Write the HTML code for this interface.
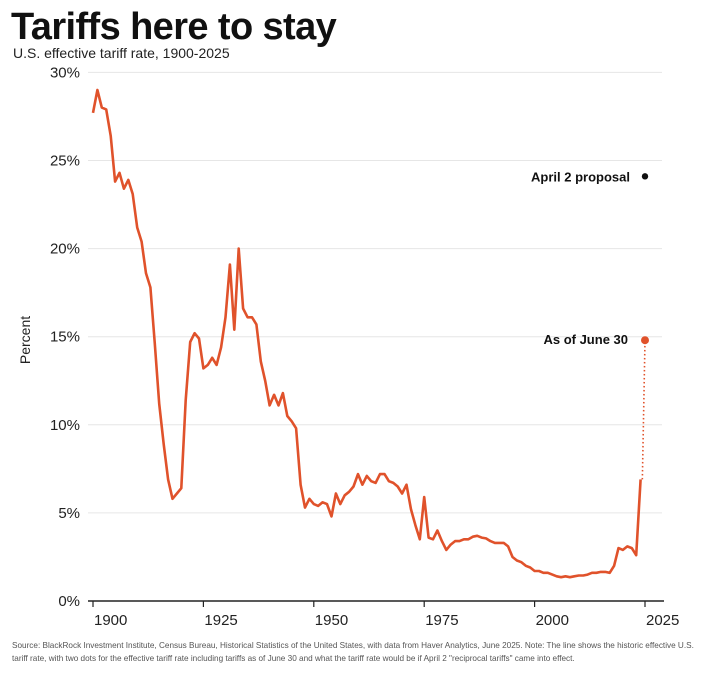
<!DOCTYPE html>
<html><head><meta charset="utf-8"><style>
body{margin:0;background:#fff;font-family:"Liberation Sans",sans-serif;}
</style></head><body>
<svg width="720" height="682" xmlns="http://www.w3.org/2000/svg">
<text x="11" y="39" font-size="38" font-weight="bold" fill="#111" style="letter-spacing:-0.6px">Tariffs here to stay</text>
<text x="13" y="58" font-size="14" fill="#222">U.S. effective tariff rate, 1900-2025</text>
<g id="grid"></g>
<g id="yt"></g>
<g id="xt"></g>
<text transform="translate(30,340) rotate(-90)" text-anchor="middle" font-size="14" fill="#222">Percent</text>
<path id="line" fill="none" stroke="#e0522b" stroke-width="2.6" stroke-linejoin="round"/>
<path id="dotline" fill="none" stroke="#e0522b" stroke-width="1.6" stroke-dasharray="1.5,2.5"/>
<circle id="junedot" r="4" fill="#e0522b"/>
<circle id="aprdot" r="3.2" fill="#111"/>
<text id="aprlbl" text-anchor="end" font-size="13" font-weight="bold" fill="#111">April 2 proposal</text>
<text id="junlbl" text-anchor="end" font-size="13" font-weight="bold" fill="#111">As of June 30</text>
<text font-size="8.2" fill="#555"><tspan x="12" y="648">Source: BlackRock Investment Institute, Census Bureau, Historical Statistics of the United States, with data from Haver Analytics, June 2025. Note: The line shows the historic effective U.S.</tspan><tspan x="12" y="661">tariff rate, with two dots for the effective tariff rate including tariffs as of June 30 and what the tariff rate would be if April 2 "reciprocal tariffs" came into effect.</tspan></text>
</svg>
<script>
const startYear = 1900;
const rates = [27.7,29.0,28.0,27.9,26.4,23.8,24.3,23.4,23.9,23.1,21.2,20.4,18.6,17.8,14.6,11.2,8.9,6.9,5.8,6.1,6.4,11.4,14.7,15.2,14.9,13.2,13.4,13.8,13.4,14.4,16.1,19.1,15.4,20.0,16.6,16.1,16.1,15.7,13.6,12.5,11.1,11.7,11.1,11.8,10.5,10.2,9.8,6.6,5.3,5.8,5.5,5.4,5.6,5.5,4.8,6.1,5.5,6.0,6.2,6.5,7.2,6.6,7.1,6.8,6.7,7.2,7.2,6.8,6.7,6.5,6.1,6.6,5.2,4.3,3.5,5.9,3.6,3.5,4.0,3.4,2.9,3.2,3.4,3.4,3.5,3.5,3.65,3.7,3.6,3.55,3.4,3.3,3.3,3.3,3.1,2.5,2.3,2.2,2.0,1.9,1.7,1.7,1.6,1.6,1.5,1.4,1.35,1.4,1.35,1.4,1.45,1.45,1.5,1.6,1.6,1.65,1.65,1.6,2.0,3.0,2.9,3.1,3.0,2.6,6.9];
const juneYear = 2025, juneRate = 14.8;
const aprilYear = 2025, aprilRate = 24.1;
const yTicks = [0,5,10,15,20,25,30];
const yTickLabels = ["0%","5%","10%","15%","20%","25%","30%"];
const xTicks = [1900,1925,1950,1975,2000,2025];

const NS="http://www.w3.org/2000/svg";
const X=y=>93+(y-1900)*4.416;
const Y=v=>601-v*17.62;
function mk(tag,parent,attrs){const e=document.createElementNS(NS,tag);for(const k in attrs)e.setAttribute(k,attrs[k]);parent.appendChild(e);return e;}
const grid=document.getElementById('grid'),yt=document.getElementById('yt'),xt=document.getElementById('xt');
yTicks.forEach((t,i)=>{
  if(t>0){const l=mk('line',grid,{x1:88,x2:662,y1:Y(t),y2:Y(t),stroke:'#e6e6e6','stroke-width':1});
  
  }
  const tx=mk('text',yt,{x:80,y:Y(t)+5,'text-anchor':'end','font-size':15,fill:'#222'});
  tx.textContent=yTickLabels[i];
  
  
});
const ax=mk('line',xt,{x1:88,x2:664,y1:601,y2:601,stroke:'#222','stroke-width':1.5});


xTicks.forEach(t=>{
  const tk=mk('line',xt,{x1:X(t),x2:X(t),y1:601,y2:607,stroke:'#222','stroke-width':1.2});
  
  
  const tx=mk('text',xt,{x:X(t)+1,y:625,'font-size':15,fill:'#222'});
  tx.textContent=t;
  
  
});
document.getElementById('line').setAttribute('d',rates.map((v,i)=>(i?'L':'M')+X(startYear+i).toFixed(1)+','+Y(v).toFixed(1)).join(''));
const ly=startYear+rates.length-1, lv=rates[rates.length-1];
document.getElementById('dotline').setAttribute('d','M'+X(ly+0.4)+','+Y(lv)+'L'+X(juneYear)+','+Y(juneRate));
const jd=document.getElementById('junedot');jd.setAttribute('cx',X(juneYear));jd.setAttribute('cy',Y(juneRate));
const ad=document.getElementById('aprdot');ad.setAttribute('cx',X(aprilYear));ad.setAttribute('cy',Y(aprilRate));
const al=document.getElementById('aprlbl');al.setAttribute('x',X(aprilYear)-15);al.setAttribute('y',Y(aprilRate)+5);
const jl=document.getElementById('junlbl');jl.setAttribute('x',X(juneYear)-17);jl.setAttribute('y',Y(juneRate)+4);
</script>
</body></html>
